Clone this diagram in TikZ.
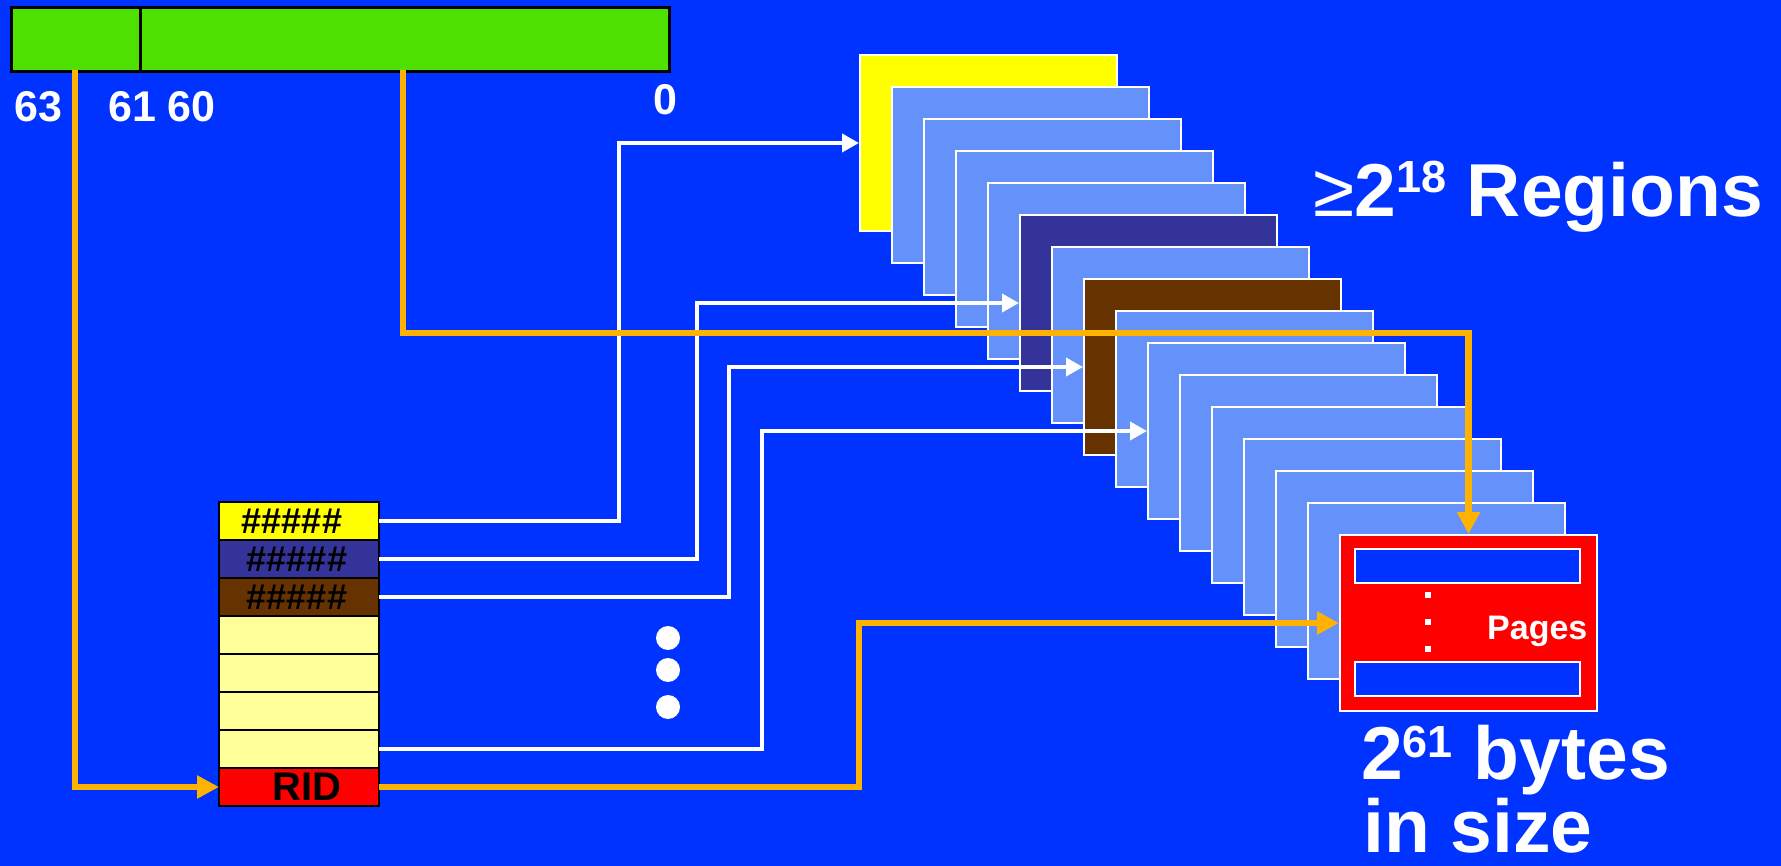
\documentclass[tikz,border=0pt]{standalone}
\usepackage{fontspec}
\setmainfont{Liberation Sans}
\usetikzlibrary{arrows.meta, positioning}

\definecolor{slidebg}{RGB}{0,51,255}
\definecolor{addrgreen}{RGB}{77,224,0}
\definecolor{lineorange}{RGB}{255,179,0}
\definecolor{regyellow}{RGB}{255,255,0}
\definecolor{reglight}{RGB}{100,145,250}
\definecolor{regdark}{RGB}{51,51,153}
\definecolor{regbrown}{RGB}{102,51,0}
\definecolor{regred}{RGB}{255,0,0}
\definecolor{rowpale}{RGB}{255,255,153}

\begin{document}
\begin{tikzpicture}[
    x=1pt, y=-1pt,
    region/.style={rectangle, draw=white, line width=2pt, minimum width=257pt, minimum height=176pt, inner sep=0pt, anchor=north west},
    rrow/.style={rectangle, draw=black, line width=2pt, minimum width=160pt, minimum height=38pt, inner sep=0pt, outer sep=0pt, font=\bfseries\fontsize{40}{40}\selectfont},
    pagebar/.style={rectangle, draw=white, fill=slidebg, line width=2pt, minimum width=225pt, minimum height=34pt, inner sep=0pt},
    wline/.style={draw=white, line width=4pt, -{Triangle[length=17pt, width=18pt]}},
    oline/.style={draw=lineorange, line width=6.5pt, -{Triangle[length=22pt, width=22pt]}},
    lbl/.style={text=white, font=\bfseries\fontsize{43}{43}\selectfont, anchor=base west, inner sep=0pt},
    big/.style={text=white, font=\bfseries\fontsize{75}{75}\selectfont, anchor=base west, inner sep=0pt}
]
\useasboundingbox (0,0) rectangle (1781,866);
\fill[slidebg] (0,0) rectangle (1781,866);

% ---- virtual address ----
\node[draw=black, fill=addrgreen, line width=3pt, minimum width=658pt, minimum height=64pt, inner sep=0pt, anchor=north west] (vaddr) at (10,6) {};
\coordinate (div) at (140,0);
\draw[line width=3pt] (vaddr.north -| div) -- (vaddr.south -| div);
\node[lbl] (n63)   at (14,122)  {63};
\node[lbl] (n6160) at (108,122) {61 60};
\node[lbl] (n0)    at (653,115) {0};

% ---- stack of regions (back to front) ----
\foreach \i/\c in {0/regyellow,1/reglight,2/reglight,3/reglight,4/reglight,5/regdark,6/reglight,7/regbrown,
                   8/reglight,9/reglight,10/reglight,11/reglight,12/reglight,13/reglight,14/reglight,15/regred}
  \node[region, fill=\c] (r\i) at (859+32*\i, 54+32*\i) {};

% ---- pages inside the red region ----
\node[pagebar] (pg1) at (1467.5,566) {};
\node[pagebar] (pg2) at (1467.5,678.5) {};
\foreach \y in {595,622,649}
  \fill[white] (1425,\y-3) rectangle ++(6,6);
\node[anchor=base west, text=white, inner sep=0pt, font=\bfseries\fontsize{34}{34}\selectfont] (pglbl) at (1487,639) {Pages};

% ---- region register table ----
\node[rrow, fill=regyellow] (t1) at (299,521) {\fontsize{36}{36}\selectfont\#\#\#\#\#\hspace*{14pt}};
\node[rrow, fill=regdark,  below=0pt of t1] (t2) {\fontsize{36}{36}\selectfont\#\#\#\#\#\hspace*{4pt}};
\node[rrow, fill=regbrown, below=0pt of t2] (t3) {\fontsize{36}{36}\selectfont\#\#\#\#\#\hspace*{4pt}};
\node[rrow, fill=rowpale,  below=0pt of t3] (t4) {};
\node[rrow, fill=rowpale,  below=0pt of t4] (t5) {};
\node[rrow, fill=rowpale,  below=0pt of t5] (t6) {};
\node[rrow, fill=rowpale,  below=0pt of t6] (t7) {};
\node[rrow, fill=regred,   below=0pt of t7] (t8) {\hspace*{16pt}RID};

% ---- ellipsis ----
\foreach \y in {638,670,707}
  \fill[white] (668,\y) circle (12);

% ---- region ids to regions ----
\draw[wline] (t1.east) -- ++(240,0) |- (r0.west);
\draw[wline] (t2.east) -- ++(318,0) |- (r5.west);
\draw[wline] (t3.east) -- ++(350,0) |- (r7.west);
\draw[wline] (t7.east) -- ++(383,0) |- (r9.west);

% ---- address bits ----
\coordinate (b63) at (75,70);
\coordinate (b60) at (403,70);
\draw[oline] (b63) |- (t8.west);
\draw[oline] (t8.east) -- ++(480,0) |- (r15.west);
\draw[oline] (b60) -- ++(0,263) -| (r15.north);

% ---- captions ----
\node[big] (regs) at (1313,217) {{\mdseries ≥}2\raisebox{24pt}{\fontsize{45}{45}\selectfont 18} Regions};
\node[big] (bytes) at (1361,779) {2\raisebox{22pt}{\fontsize{45}{45}\selectfont 61} bytes};
\node[big] (insize) at (1363,852) {in size};

\end{tikzpicture}
\end{document}
